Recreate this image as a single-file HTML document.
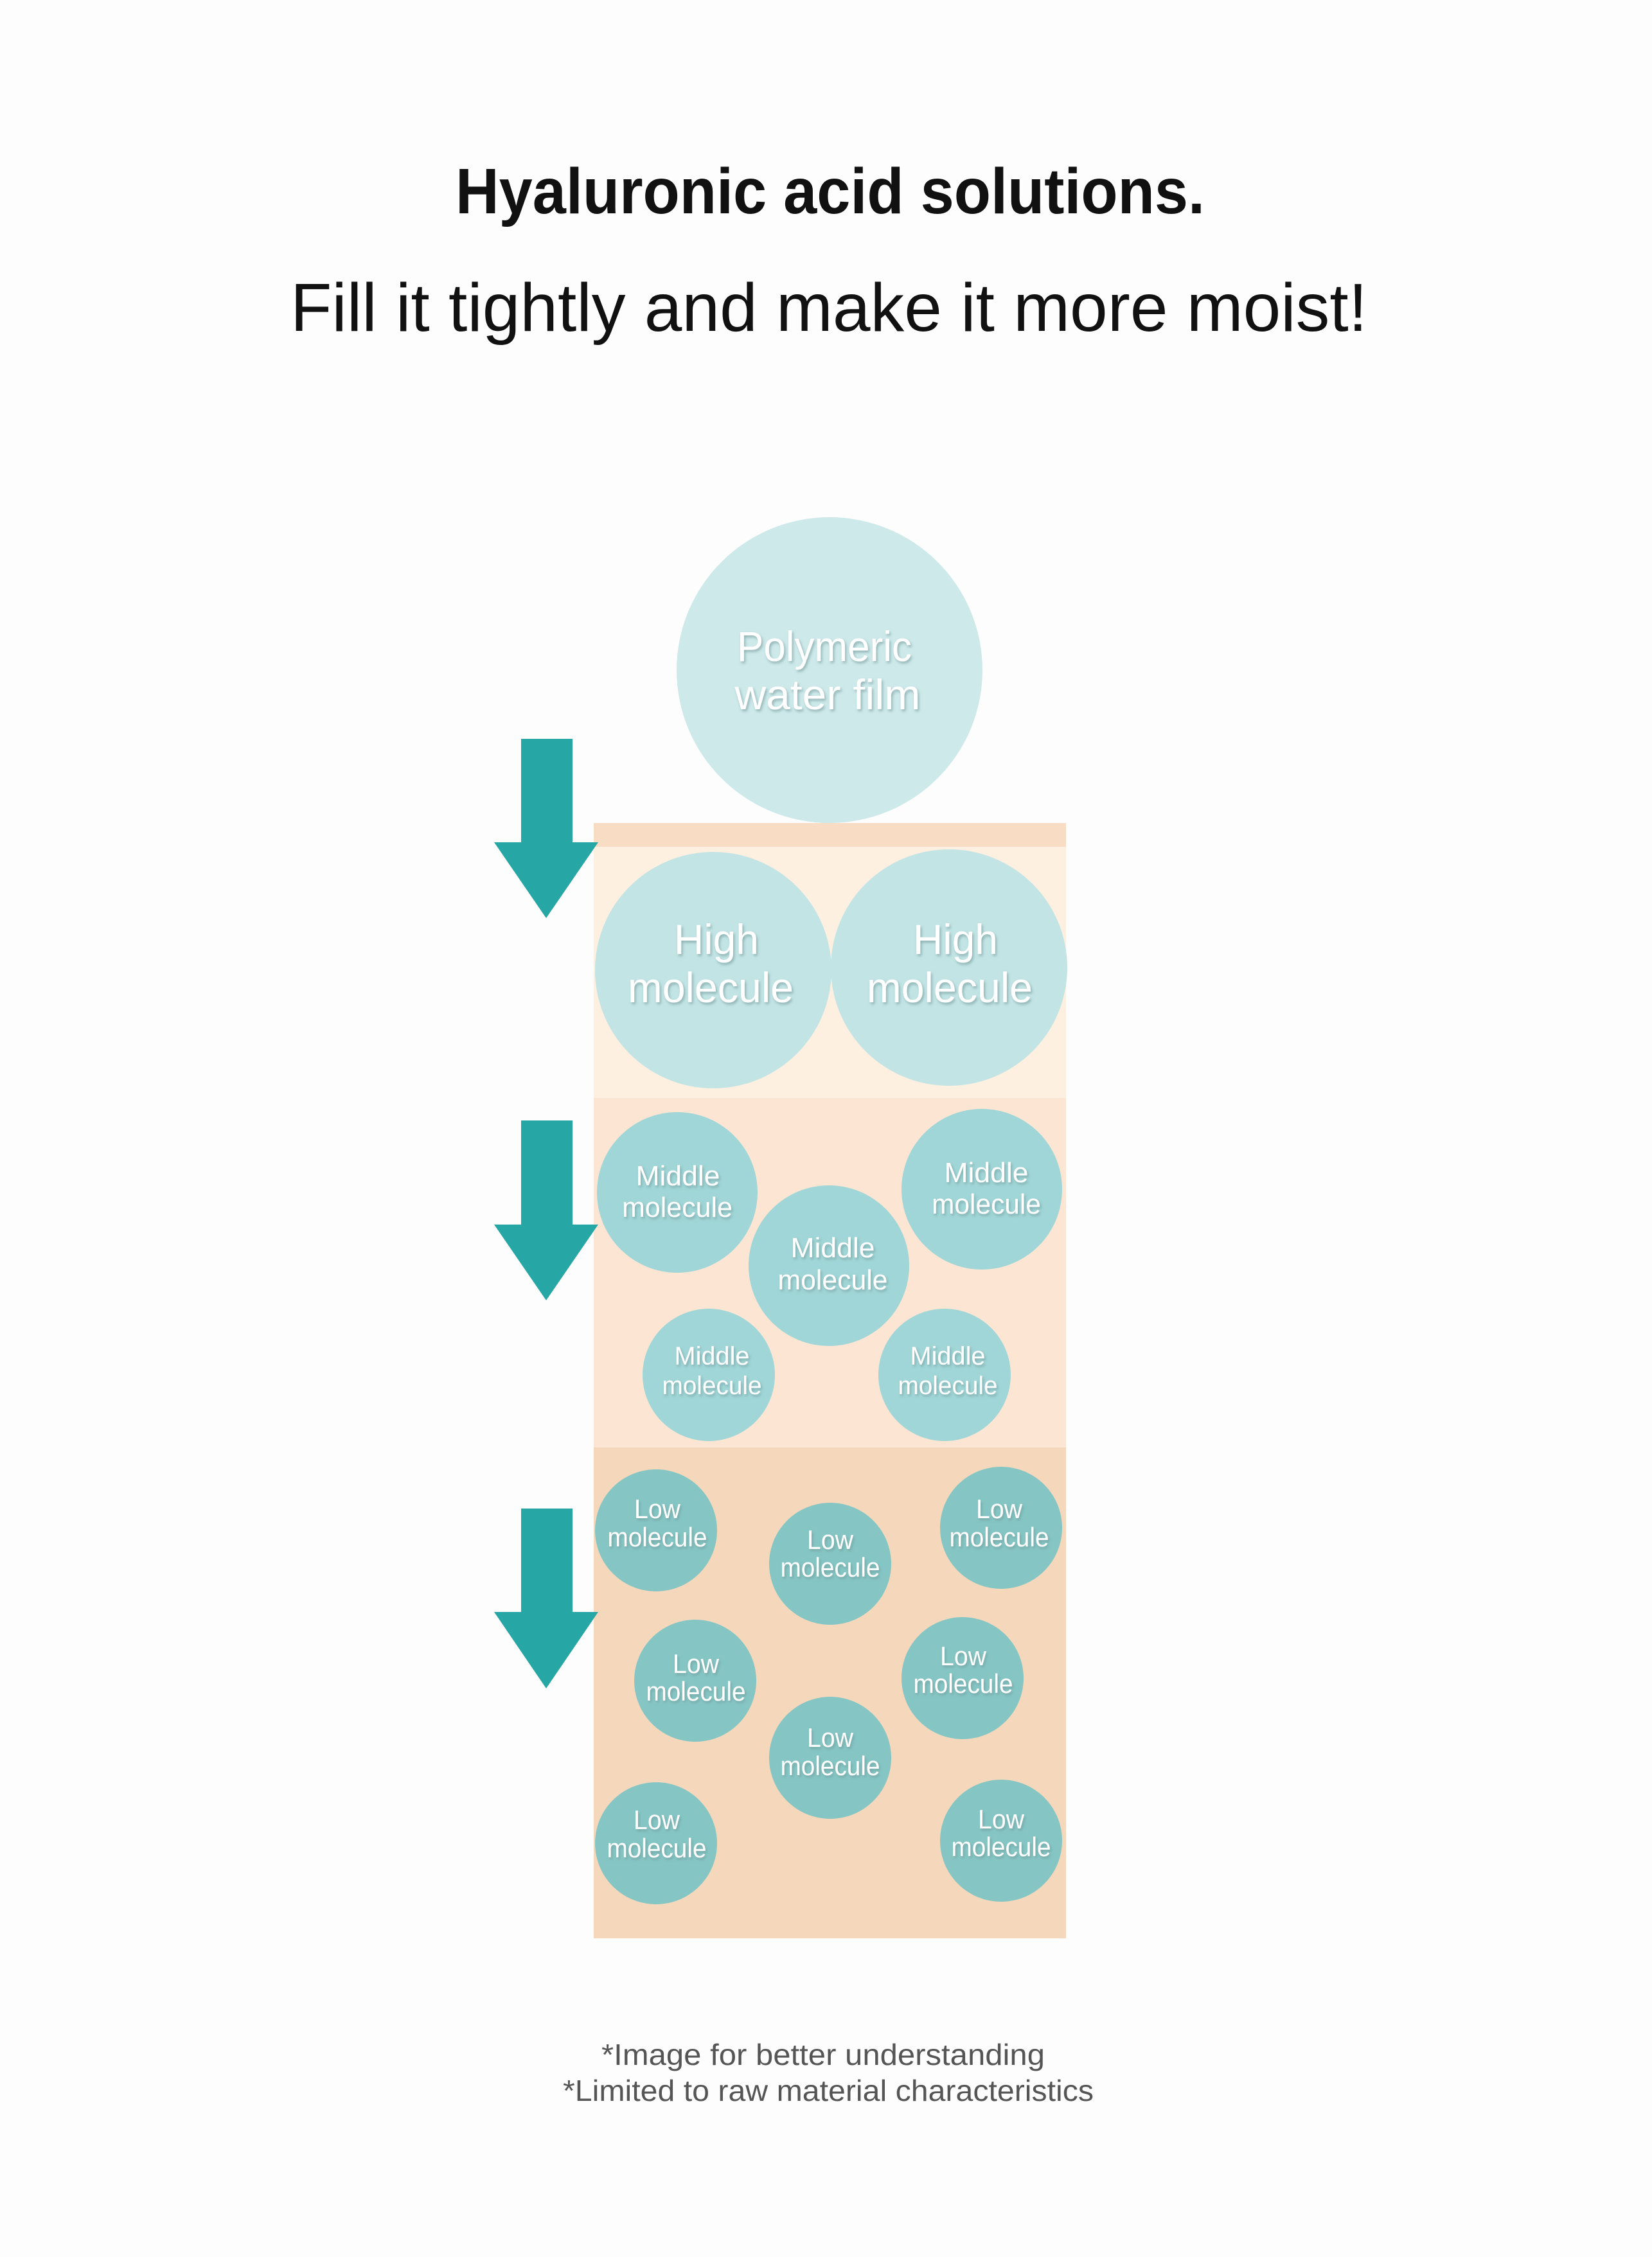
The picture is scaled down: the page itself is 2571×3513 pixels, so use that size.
<!DOCTYPE html>
<html><head><meta charset="utf-8"><style>
html,body{margin:0;padding:0;background:#fdfdfd;}
svg{display:block;}
</style></head><body>
<svg width="2571" height="3513" viewBox="0 0 2571 3513" xmlns="http://www.w3.org/2000/svg">
<defs>
<filter id="sh" x="-20%" y="-20%" width="140%" height="160%">
<feDropShadow dx="2" dy="3" stdDeviation="2" flood-color="#6a8e8f" flood-opacity="0.6"/>
</filter>
</defs>
<rect width="2571" height="3513" fill="#fdfdfd"/>
<g font-family="Liberation Sans, sans-serif" text-anchor="middle" fill="#111">
<text x="1292" y="332" font-size="100" font-weight="bold" textLength="1166" lengthAdjust="spacingAndGlyphs">Hyaluronic acid solutions.</text>
<text x="1290" y="515" font-size="106" textLength="1676" lengthAdjust="spacingAndGlyphs">Fill it tightly and make it more moist!</text>
</g>
<!-- layers -->
<rect x="924" y="1281" width="735" height="38" fill="#f8dcc4"/>
<rect x="924" y="1318" width="735" height="392" fill="#fef0e0"/>
<rect x="924" y="1709" width="735" height="545" fill="#fce6d3"/>
<rect x="924" y="2253" width="735" height="764" fill="#f5d8bb"/>
<!-- arrows -->
<g fill="#26a7a5">
<polygon points="811,1150 891,1150 891,1311 931,1311 850,1429 769,1311 811,1311"/>
<polygon points="811,1744 891,1744 891,1906 931,1906 850,2024 769,1906 811,1906"/>
<polygon points="811,2348 891,2348 891,2509 931,2509 850,2628 769,2509 811,2509"/>
</g>
<!-- circles -->
<circle cx="1291" cy="1043" r="238" fill="#cde9ea"/>
<circle cx="1110" cy="1510" r="184" fill="#c2e4e5"/>
<circle cx="1477" cy="1506" r="184" fill="#c2e4e5"/>
<g fill="#a0d6d7">
<circle cx="1054" cy="1856" r="125"/>
<circle cx="1528" cy="1851" r="125"/>
<circle cx="1290" cy="1970" r="125"/>
<circle cx="1103" cy="2140" r="103"/>
<circle cx="1470" cy="2140" r="103"/>
</g>
<g fill="#85c6c4">
<circle cx="1021" cy="2382" r="95"/>
<circle cx="1292" cy="2434" r="95"/>
<circle cx="1558" cy="2378" r="95"/>
<circle cx="1082" cy="2616" r="95"/>
<circle cx="1498" cy="2612" r="95"/>
<circle cx="1292" cy="2736" r="95"/>
<circle cx="1021" cy="2869" r="95"/>
<circle cx="1558" cy="2865" r="95"/>
</g>
<g font-family="Liberation Sans, sans-serif" text-anchor="middle" fill="#ffffff" filter="url(#sh)">
<text x="1283" y="1029" font-size="66" textLength="272" lengthAdjust="spacingAndGlyphs">Polymeric</text>
<text x="1288" y="1104" font-size="66" textLength="289" lengthAdjust="spacingAndGlyphs">water film</text>
<text x="1115" y="1485" font-size="66" textLength="132" lengthAdjust="spacingAndGlyphs">High</text>
<text x="1106" y="1560" font-size="66" textLength="258" lengthAdjust="spacingAndGlyphs">molecule</text>
<text x="1487" y="1485" font-size="66" textLength="132" lengthAdjust="spacingAndGlyphs">High</text>
<text x="1478" y="1560" font-size="66" textLength="258" lengthAdjust="spacingAndGlyphs">molecule</text>

<text x="1055" y="1845" font-size="44" textLength="131" lengthAdjust="spacingAndGlyphs">Middle</text>
<text x="1054" y="1894" font-size="44" textLength="172" lengthAdjust="spacingAndGlyphs">molecule</text>
<text x="1535" y="1840" font-size="44" textLength="131" lengthAdjust="spacingAndGlyphs">Middle</text>
<text x="1535" y="1889" font-size="44" textLength="170" lengthAdjust="spacingAndGlyphs">molecule</text>
<text x="1296" y="1957" font-size="44" textLength="131" lengthAdjust="spacingAndGlyphs">Middle</text>
<text x="1296" y="2007" font-size="44" textLength="171" lengthAdjust="spacingAndGlyphs">molecule</text>
<text x="1108" y="2124" font-size="40" textLength="117" lengthAdjust="spacingAndGlyphs">Middle</text>
<text x="1108" y="2170" font-size="40" textLength="155" lengthAdjust="spacingAndGlyphs">molecule</text>
<text x="1475" y="2124" font-size="40" textLength="117" lengthAdjust="spacingAndGlyphs">Middle</text>
<text x="1475" y="2170" font-size="40" textLength="155" lengthAdjust="spacingAndGlyphs">molecule</text>

<g font-size="42">
<text x="1023" y="2363" textLength="72" lengthAdjust="spacingAndGlyphs">Low</text>
<text x="1023" y="2407" textLength="155" lengthAdjust="spacingAndGlyphs">molecule</text>
<text x="1292" y="2411" textLength="72" lengthAdjust="spacingAndGlyphs">Low</text>
<text x="1292" y="2454" textLength="155" lengthAdjust="spacingAndGlyphs">molecule</text>
<text x="1555" y="2363" textLength="72" lengthAdjust="spacingAndGlyphs">Low</text>
<text x="1555" y="2407" textLength="155" lengthAdjust="spacingAndGlyphs">molecule</text>
<text x="1083" y="2604" textLength="72" lengthAdjust="spacingAndGlyphs">Low</text>
<text x="1083" y="2647" textLength="155" lengthAdjust="spacingAndGlyphs">molecule</text>
<text x="1499" y="2592" textLength="72" lengthAdjust="spacingAndGlyphs">Low</text>
<text x="1499" y="2635" textLength="155" lengthAdjust="spacingAndGlyphs">molecule</text>
<text x="1292" y="2719" textLength="72" lengthAdjust="spacingAndGlyphs">Low</text>
<text x="1292" y="2763" textLength="155" lengthAdjust="spacingAndGlyphs">molecule</text>
<text x="1022" y="2847" textLength="72" lengthAdjust="spacingAndGlyphs">Low</text>
<text x="1022" y="2891" textLength="155" lengthAdjust="spacingAndGlyphs">molecule</text>
<text x="1558" y="2846" textLength="72" lengthAdjust="spacingAndGlyphs">Low</text>
<text x="1558" y="2889" textLength="155" lengthAdjust="spacingAndGlyphs">molecule</text>
</g>
</g>
<g font-family="Liberation Sans, sans-serif" text-anchor="middle" fill="#555555" font-size="46">
<text x="1281" y="3214" textLength="690" lengthAdjust="spacingAndGlyphs">*Image for better understanding</text>
<text x="1289" y="3270" textLength="826" lengthAdjust="spacingAndGlyphs">*Limited to raw material characteristics</text>
</g>
</svg>
</body></html>
